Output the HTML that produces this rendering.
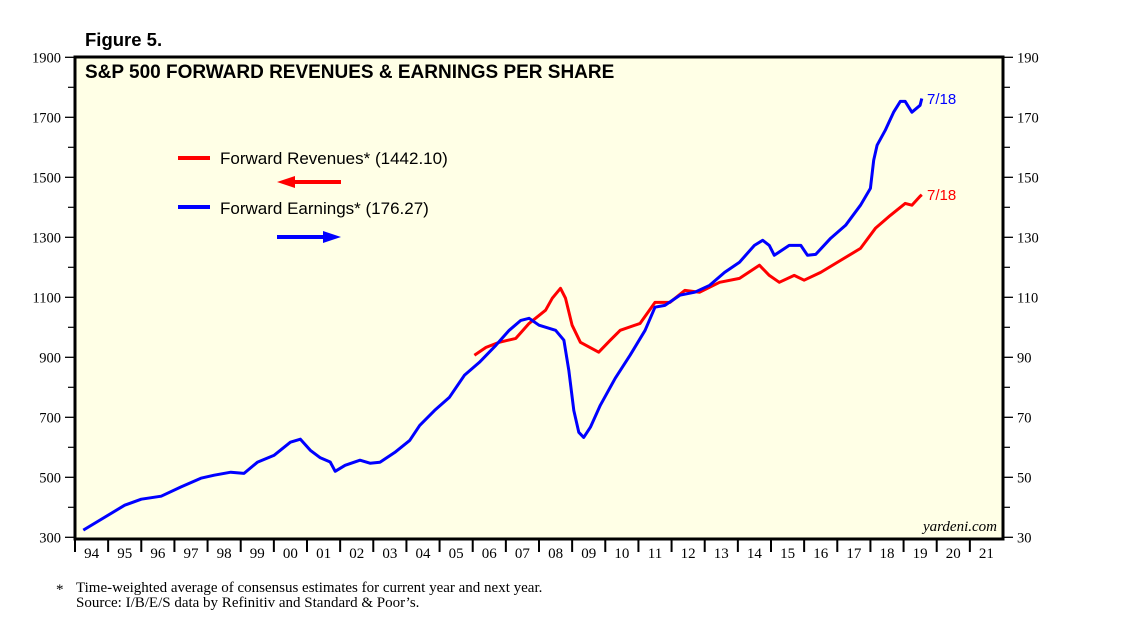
<!DOCTYPE html>
<html><head><meta charset="utf-8"><style>
body{margin:0;background:#fff;}
svg text{font-family:"Liberation Serif",serif;}
</style></head><body>
<svg id="chart" width="1138" height="621" xmlns="http://www.w3.org/2000/svg">
<text x="85" y="46" font-size="18.5" font-weight="bold" style="font-family:'Liberation Sans',sans-serif">Figure 5.</text>
<rect x="75" y="57" width="928" height="482" fill="#ffffe6" stroke="#000" stroke-width="3"/>
<text x="85" y="78" font-size="19" font-weight="bold" style="font-family:'Liberation Sans',sans-serif">S&amp;P 500 FORWARD REVENUES &amp; EARNINGS PER SHARE</text>
<g id="axes"></g>
<g id="series"></g>
<line x1="178" y1="158" x2="210" y2="158" stroke="#f00" stroke-width="4"/>
<text x="220" y="164" font-size="17" fill="#000" style="font-family:'Liberation Sans',sans-serif">Forward Revenues* (1442.10)</text>
<line x1="292" y1="182" x2="341" y2="182" stroke="#f00" stroke-width="4"/>
<polygon points="277,182 295,176 295,188" fill="#f00"/>
<line x1="178" y1="207" x2="210" y2="207" stroke="#00f" stroke-width="4"/>
<text x="220" y="214" font-size="17" fill="#000" style="font-family:'Liberation Sans',sans-serif">Forward Earnings* (176.27)</text>
<line x1="277" y1="237" x2="326" y2="237" stroke="#00f" stroke-width="4"/>
<polygon points="341,237 323,231 323,243" fill="#00f"/>
<text x="927" y="104" font-size="15" fill="#00f" style="font-family:'Liberation Sans',sans-serif">7/18</text>
<text x="927" y="200" font-size="15" fill="#f00" style="font-family:'Liberation Sans',sans-serif">7/18</text>
<text x="997" y="531" font-size="15" font-style="italic" text-anchor="end">yardeni.com</text>
<text x="56" y="594" font-size="15">*</text>
<text x="76" y="592" font-size="15">Time-weighted average of consensus estimates for current year and next year.</text>
<text x="76" y="607" font-size="15">Source: I/B/E/S data by Refinitiv and Standard &amp; Poor’s.</text>
</svg>
<script>
const revYears=[2006.05,2006.4,2006.8,2007.3,2007.7,2008.2,2008.4,2008.65,2008.8,2009.0,2009.25,2009.8,2010.15,2010.45,2011.05,2011.5,2011.95,2012.4,2012.85,2013.45,2014.05,2014.65,2014.95,2015.25,2015.7,2016.0,2016.5,2017.1,2017.7,2018.15,2018.6,2019.05,2019.25,2019.5,2019.55];
const revValues=[907,933,950,963,1013,1057,1097,1130,1097,1007,950,917,957,990,1013,1083,1083,1123,1117,1150,1163,1207,1173,1150,1173,1157,1183,1223,1263,1330,1373,1413,1407,1437,1442];
const epsYears=[1994.25,1995.5,1996,1996.6,1997.2,1997.8,1998.2,1998.7,1999.1,1999.5,2000,2000.5,2000.8,2001.1,2001.4,2001.7,2001.85,2002.15,2002.6,2002.9,2003.2,2003.65,2004.1,2004.4,2004.85,2005.3,2005.75,2006.2,2006.7,2007.1,2007.45,2007.7,2008.0,2008.5,2008.75,2008.9,2009.05,2009.2,2009.35,2009.55,2009.85,2010.3,2010.75,2011.2,2011.5,2011.8,2012.25,2012.7,2013.15,2013.6,2014.05,2014.5,2014.75,2014.95,2015.1,2015.55,2015.9,2016.1,2016.35,2016.8,2017.25,2017.7,2018.0,2018.1,2018.2,2018.45,2018.7,2018.9,2019.05,2019.25,2019.5,2019.55];
const epsValues=[32.4,40.7,42.7,43.7,46.8,49.7,50.7,51.7,51.3,55.0,57.3,61.7,62.7,59.0,56.5,55.1,52.0,54.0,55.7,54.7,55.0,58.3,62.3,67.3,72.3,76.7,84.0,88.3,94.0,99.0,102.3,103.0,100.7,99.0,95.7,85.7,72.3,65.0,63.3,66.7,74.0,83.0,90.7,99.0,106.7,107.3,110.7,111.7,114.0,118.3,121.7,127.3,129.0,127.3,124.0,127.3,127.3,124.0,124.3,129.7,134.0,140.7,146.3,155.7,160.7,165.7,171.7,175.3,175.3,171.7,174.0,176.27];
const leftTicks=[300,500,700,900,1100,1300,1500,1700,1900];
const rightTicks=[30,50,70,90,110,130,150,170,190];
const yearLabels=["94","95","96","97","98","99","00","01","02","03","04","05","06","07","08","09","10","11","12","13","14","15","16","17","18","19","20","21"];
const NS="http://www.w3.org/2000/svg";
const X0=75,X1=1003,Y0=537.3,Y1=57.3;
const xs=t=>X0+(t-1994)*(X1-X0)/28;
const yL=v=>Y0-(v-300)*(Y0-Y1)/1600;
const yR=v=>Y0-(v-30)*(Y0-Y1)/160;
function mk(tag,attrs,parent){const e=document.createElementNS(NS,tag);for(const k in attrs)e.setAttribute(k,attrs[k]);parent.appendChild(e);return e;}
const ax=document.getElementById('axes');
leftTicks.forEach((v,i)=>{
  const y=yL(v);
  const l=mk('line',{x1:65,x2:75,y1:y,y2:y,stroke:'#000','stroke-width':1.3},ax);
  
  
  const t=mk('text',{x:61,y:y+5,'font-size':14.5,'text-anchor':'end'},ax);t.textContent=v;
  
  
  if(i<leftTicks.length-1){const ym=yL(v+100);mk('line',{x1:68,x2:75,y1:ym,y2:ym,stroke:'#000','stroke-width':1.2},ax);}
});
rightTicks.forEach((v,i)=>{
  const y=yR(v);
  mk('line',{x1:1003,x2:1013,y1:y,y2:y,stroke:'#000','stroke-width':1.3},ax);
  const t=mk('text',{x:1017,y:y+5,'font-size':14.5},ax);t.textContent=v;
  
  
  if(i<rightTicks.length-1){const ym=yR(v+10);mk('line',{x1:1003,x2:1010,y1:ym,y2:ym,stroke:'#000','stroke-width':1.2},ax);}
});
yearLabels.forEach((lab,i)=>{
  const x=xs(1994+i);
  mk('line',{x1:x,x2:x,y1:539,y2:552,stroke:'#000','stroke-width':2},ax);
  const t=mk('text',{x:xs(1994.5+i),y:558,'font-size':15,'text-anchor':'middle'},ax);t.textContent=lab;
  
  
});
const sg=document.getElementById('series');
function path(xsA,vs,yf,col,name){
  const d=xsA.map((t,i)=>(i?'L':'M')+xs(t).toFixed(1)+','+yf(vs[i]).toFixed(1)).join('');
  const p=mk('path',{d:d,fill:'none',stroke:col,'stroke-width':3,'stroke-linejoin':'round'},sg);
  
  
}
path(revYears,revValues,yL,'#f00','forward-revenues-line');
path(epsYears,epsValues,yR,'#00f','forward-earnings-line');
</script>
</body></html>
